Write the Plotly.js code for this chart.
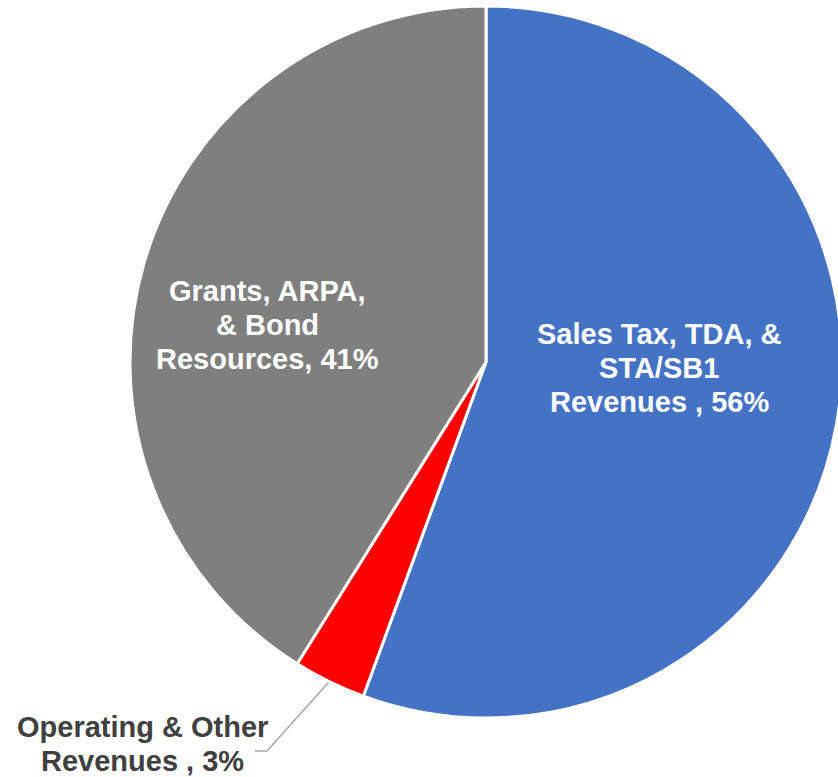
<!DOCTYPE html>
<html>
<head>
<meta charset="utf-8">
<script src="https://cdn.plot.ly/plotly-3.0.1.min.js"></script>
<style>
html,body{margin:0;padding:0;overflow:hidden;background:#fff;width:838px;height:777px;}
#chart{width:846px;height:777px;}
</style>
</head>
<body>
<div id="chart"></div>
<script>
// Data
var categories = ["Sales Tax, TDA, & STA/SB1 Revenues", "Operating & Other Revenues", "Grants, ARPA, & Bond Resources"];
var values = [55.6, 3.3, 41.1];
var labelLines = [
  ["Sales Tax, TDA, &", "STA/SB1", "Revenues , 56%"],
  ["Operating & Other", "Revenues , 3%"],
  ["Grants, ARPA,", "& Bond", "Resources, 41%"]
];
var colors = ["#4472C4", "#FF0000", "#7F7F7F"];

var W = 846, H = 777;
function px(x){ return x / W; }
function py(y){ return 1 - y / H; }

var cx = 486, cy = 362, r = 356;

var trace = {
  type: "pie",
  labels: categories,
  values: values,
  sort: false,
  direction: "clockwise",
  rotation: 0,
  textinfo: "none",
  hoverinfo: "label+percent",
  marker: { colors: colors, line: { color: "#FFFFFF", width: 3 } },
  domain: { x: [px(cx - r), px(cx + r)], y: [py(cy + r), py(cy - r)] },
  showlegend: false
};

// label placement (centre of each text block, line spacing)
var labelPos = [
  { x: 659, y: 368, color: "#FFFFFF" },
  { x: 142, y: 744, color: "#404040" },
  { x: 267, y: 325, color: "#FFFFFF" }
];
var lineGap = 34;
var annotations = [];
labelLines.forEach(function(lines, i){
  var p = labelPos[i];
  var n = lines.length;
  lines.forEach(function(t, j){
    var yy = p.y + (j - (n - 1) / 2) * lineGap;
    annotations.push({
      xref: "paper", yref: "paper",
      x: px(p.x), y: py(yy),
      xanchor: "center", yanchor: "middle",
      text: t, showarrow: false,
      font: { family: "Liberation Sans, Arial, sans-serif", size: 29, weight: "bold", color: p.color }
    });
  });
});

var layout = {
  width: W, height: H,
  margin: { l: 0, r: 0, t: 0, b: 0 },
  paper_bgcolor: "#FFFFFF",
  plot_bgcolor: "#FFFFFF",
  showlegend: false,
  annotations: annotations,
  shapes: [{
    type: "path", xref: "paper", yref: "paper",
    path: "M " + px(328) + "," + py(683) + " L " + px(267) + "," + py(751) + " L " + px(255) + "," + py(751),
    line: { color: "#A6A6A6", width: 1.5 }
  }]
};

Plotly.newPlot("chart", [trace], layout, { displayModeBar: false, staticPlot: true });
</script>
</body>
</html>
